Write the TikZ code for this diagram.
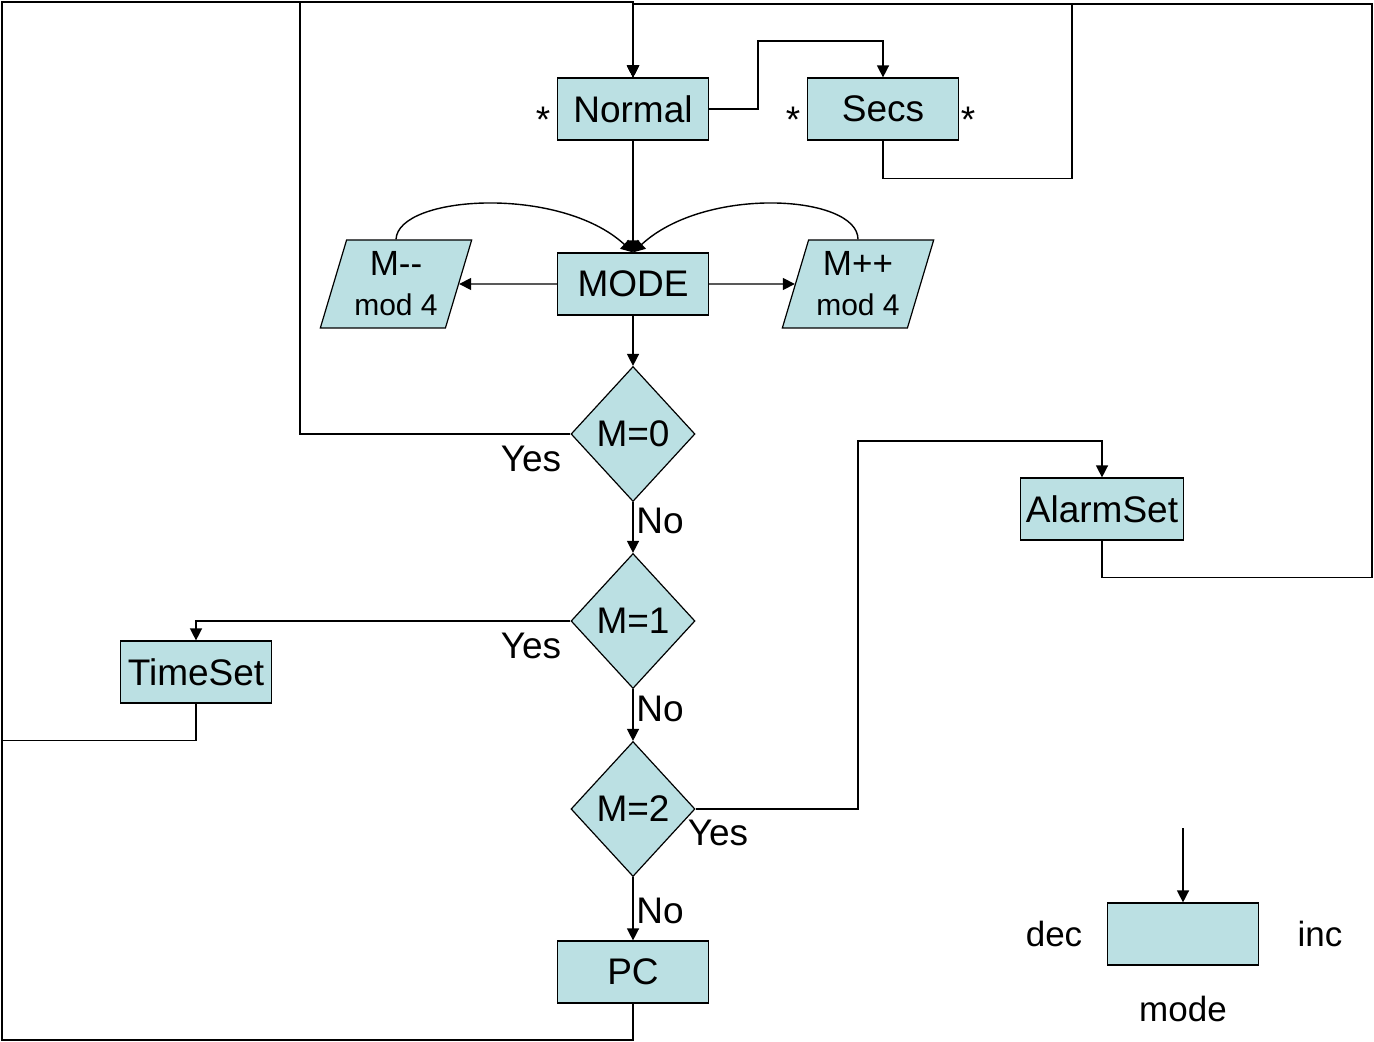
\documentclass[tikz,border=0pt]{standalone}
\usepackage{fontspec}
\setmainfont{Liberation Sans}
\usetikzlibrary{arrows.meta,shapes.geometric}

\definecolor{boxfill}{RGB}{187,224,227}

\tikzset{
	flowbox/.style={draw, fill=boxfill, line width=0.6pt, minimum width=75.5pt, minimum height=31pt, inner sep=0pt, font=\fontsize{18.5}{20}\selectfont},
	test/.style={diamond, draw, fill=boxfill, line width=0.6pt, minimum width=62pt, minimum height=67.5pt, inner sep=0pt, font=\fontsize{18.5}{20}\selectfont},
	modop/.style={trapezium, trapezium left angle=71, trapezium right angle=109, trapezium stretches=true, draw, fill=boxfill, line width=0.6pt, minimum width=76pt, minimum height=44pt, inner sep=0pt, align=center, font=\fontsize{17.5}{19}\selectfont},
	lbl/.style={inner sep=0pt, font=\fontsize{18.5}{20}\selectfont},
	flow/.style={line width=0.7pt, -{Triangle[length=6pt,width=6pt]}}
}

\begin{document}
\begin{tikzpicture}[x=0.5pt, y=-0.5pt]
	\useasboundingbox (0,0) rectangle (1374,1042);
	% states
	\node[flowbox] (normal) at (633,109) {Normal};
	\node[flowbox] (secs) at (883,109) {Secs};
	\node[flowbox] (mode) at (633,284) {MODE};
	\node[modop] (mdec) at (396,284) {M-{}-\\[1pt]{\fontsize{15}{15}\selectfont mod 4}};
	\node[modop] (minc) at (858,284) {M++\\[1pt]{\fontsize{15}{15}\selectfont mod 4}};
	\node[test] (m0) at (633,434) {M=0};
	\node[test] (m1) at (633,621) {M=1};
	\node[test] (m2) at (633,809) {M=2};
	\node[flowbox] (pc) at (633,972) {PC};
	\node[flowbox] (timeset) at (196,672) {TimeSet};
	\node[flowbox, minimum width=81.5pt] (alarm) at (1102,509) {AlarmSet};
	\node[flowbox] (legend) at (1183,934) {};
	% labels
	\node[lbl, anchor=base] (starn) at (543,133) {*};
	\node[lbl, anchor=base] (starsl) at (793,133) {*};
	\node[lbl, anchor=base] (starsr) at (968,133) {*};
	\node[lbl] (yes0) at (531,459) {Yes};
	\node[lbl] (yes1) at (531,646) {Yes};
	\node[lbl] (yes2) at (718,833) {Yes};
	\node[lbl] (no0) at (660,521) {No};
	\node[lbl] (no1) at (660,709) {No};
	\node[lbl] (no2) at (660,911) {No};
	\node[lbl, font=\fontsize{17.5}{20}\selectfont] (decl) at (1054,934) {dec};
	\node[lbl, font=\fontsize{17.5}{20}\selectfont] (incl) at (1320,934) {inc};
	\node[lbl, font=\fontsize{17.5}{20}\selectfont] (model) at (1183,1009) {mode};
	% corners
	\coordinate (nw) at (2,2);
	\coordinate (sw) at (2,1040);
	\coordinate (ne) at (1372,4);
	\coordinate (m0up) at (300,2);
	\coordinate (secsup) at (1072,4);
	\coordinate (jog) at (758,41);
	\coordinate (almup) at (858,441);
	\coordinate (legin) at (1183,828);
	% back to Normal
	\draw[flow] (pc.south) |- (sw) -- (nw) -| (normal.north);
	\draw[flow] (timeset.south) -- ++(0,37) -| (nw) -| (normal.north);
	\draw[flow] (m0.west) -| (m0up) -| (normal.north);
	\draw[flow] (secs.south) -- ++(0,38) -| (secsup) -| (normal.north);
	\draw[flow] (alarm.south) -- ++(0,37) -| (ne) -| (normal.north);
	\draw[flow] (normal.east) -| (jog) -| (secs.north);
	% mode select
	\draw[flow] (normal) -- (mode);
	\draw[flow] (mode) -- (mdec);
	\draw[flow] (mode) -- (minc);
	\draw[flow] (mdec.north) .. controls (398,195) and (560,185) .. (mode.north);
	\draw[flow] (minc.north) .. controls (858,195) and (706,185) .. (mode.north);
	\draw[flow] (mode) -- (m0);
	\draw[flow] (m0) -- (m1);
	\draw[flow] (m1) -- (m2);
	\draw[flow] (m2) -- (pc);
	\draw[flow] (m1.west) -| (timeset.north);
	\draw[flow] (m2.east) -| (almup) -| (alarm.north);
	\draw[flow] (legin) -- (legend);
\end{tikzpicture}
\end{document}
